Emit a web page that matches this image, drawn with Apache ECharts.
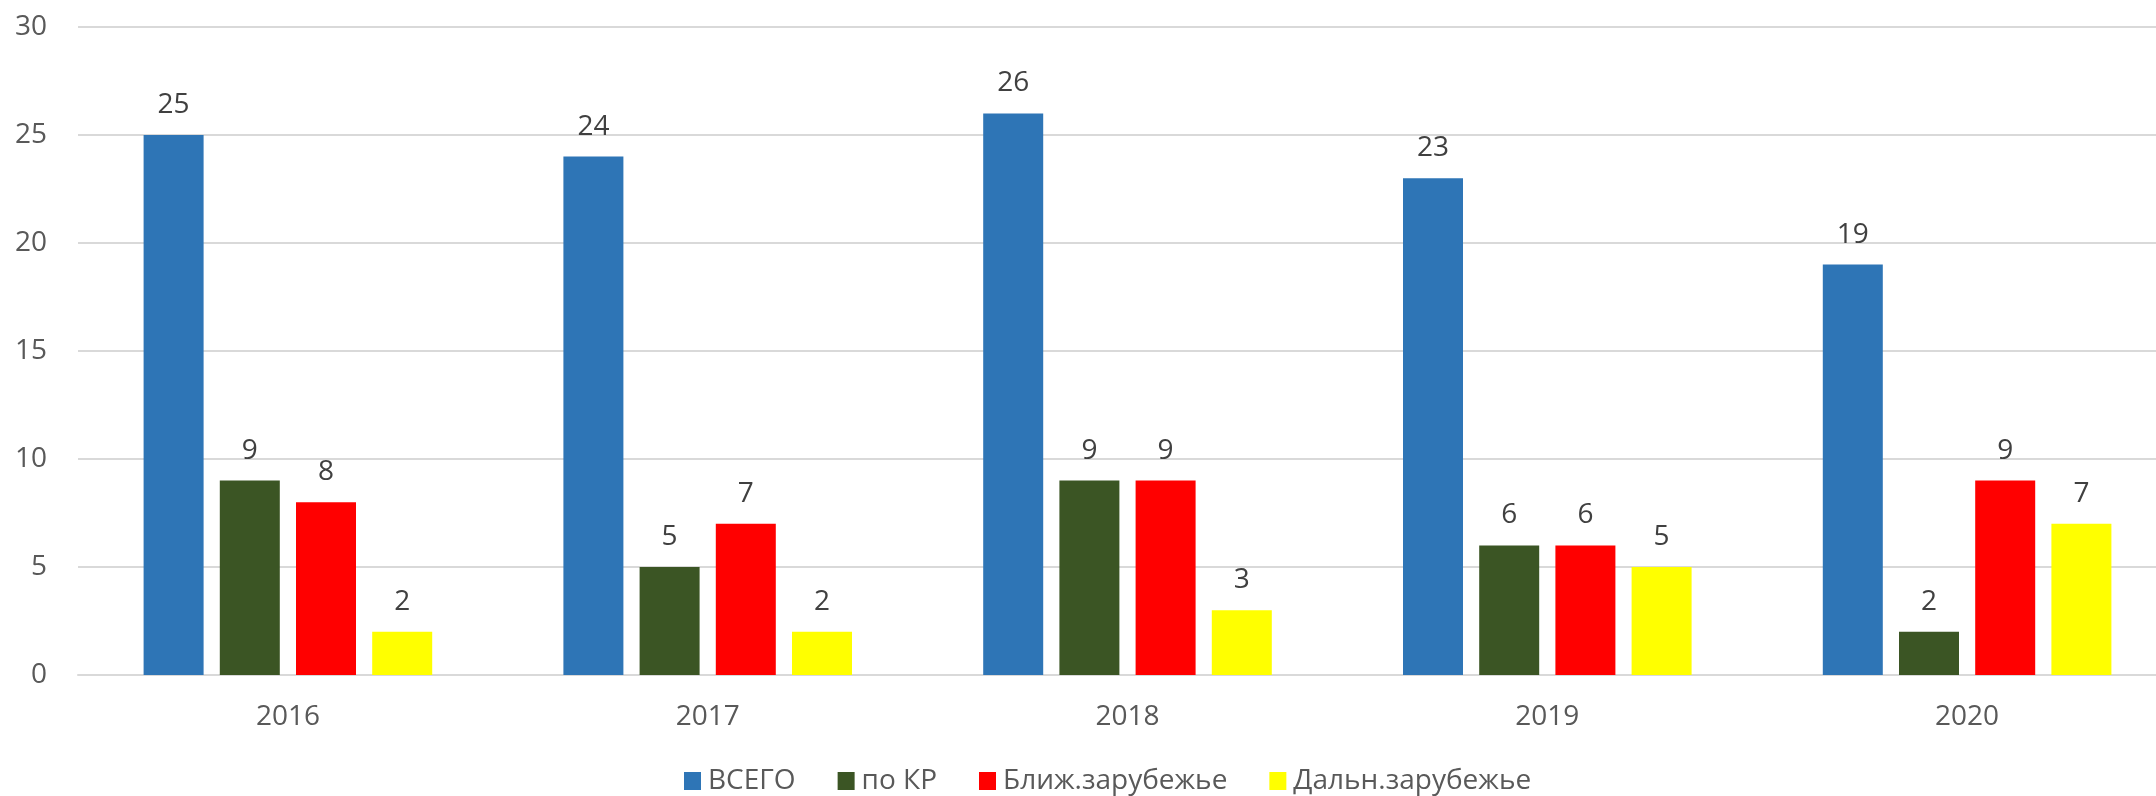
<!DOCTYPE html>
<html>
<head>
<meta charset="utf-8">
<script src="https://cdn.jsdelivr.net/npm/echarts@6/dist/echarts.min.js"></script>
<style>
  html, body { margin: 0; padding: 0; background: #fff; overflow: hidden; }
  /* the original plot runs past the right edge of the picture */
  #main { width: 2177px; height: 796px; }
</style>
</head>
<body>
<div id="main"></div>
<script>
  // данные
  var years = ['2016', '2017', '2018', '2019', '2020'];
  var seriesNames = ['ВСЕГО', 'по КР', 'Ближ.зарубежье', 'Дальн.зарубежье'];
  var vsego = [25, 24, 26, 23, 19];
  var poKR = [9, 5, 9, 6, 2];
  var blizh = [8, 7, 9, 6, 9];
  var daln = [2, 2, 3, 5, 7];
  var yTicks = [0, 5, 10, 15, 20, 25, 30];

  var colors = ['#2E75B6', '#3B5524', '#FF0000', '#FFFF00'];
  var font = '"Open Sans", "DejaVu Sans", sans-serif';

  function makeSeries(name, data, idx) {
    return {
      name: name,
      type: 'bar',
      data: data,
      barWidth: 60,
      barGap: '27%',
      itemStyle: { color: colors[idx] },
      label: {
        show: true,
        position: 'top',
        distance: 16,
        color: '#404040',
        fontSize: 28,
        fontFamily: font
      }
    };
  }

  var chart = echarts.init(document.getElementById('main'));
  chart.setOption({
    animation: false,
    backgroundColor: '#fff',
    grid: { left: 78, top: 27, right: 0, bottom: 121 },
    legend: {
      data: seriesNames,
      left: 679,
      top: 762,
      itemWidth: 17,
      itemHeight: 18,
      itemGap: 42,
      icon: 'rect',
      textStyle: { color: '#595959', fontSize: 28, fontFamily: font, padding: [0, 0, 0, 2] }
    },
    xAxis: {
      type: 'category',
      data: years,
      axisLine: { lineStyle: { color: '#D9D9D9', width: 2 } },
      axisTick: { show: false },
      axisLabel: { color: '#595959', fontSize: 28, fontFamily: font, margin: 28 }
    },
    yAxis: {
      type: 'value',
      min: yTicks[0],
      max: yTicks[yTicks.length - 1],
      interval: 5,
      axisLine: { show: false },
      axisTick: { show: false },
      splitLine: { lineStyle: { color: '#D9D9D9', width: 2 } },
      axisLabel: { color: '#595959', fontSize: 28, fontFamily: font, margin: 31 }
    },
    series: [
      makeSeries(seriesNames[0], vsego, 0),
      makeSeries(seriesNames[1], poKR, 1),
      makeSeries(seriesNames[2], blizh, 2),
      makeSeries(seriesNames[3], daln, 3)
    ]
  });
</script>
</body>
</html>
